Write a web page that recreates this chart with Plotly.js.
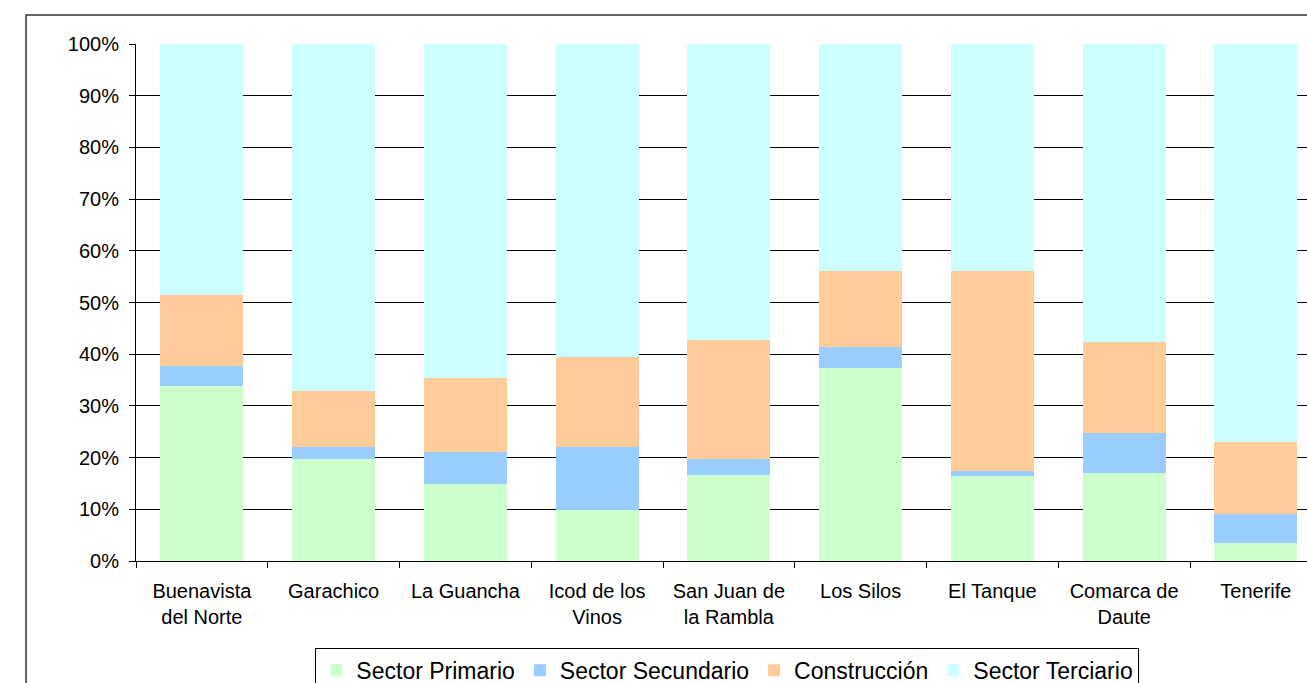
<!DOCTYPE html>
<html>
<head>
<meta charset="utf-8">
<script src="https://cdn.plot.ly/plotly-3.0.1.min.js"></script>
<style>html,body{margin:0;padding:0;background:#fff;}#chart{width:1307px;height:683px;}</style>
</head>
<body>
<div id="chart"></div>
<script>
var categories = ["Buenavista<br>del Norte", "Garachico", "La Guancha", "Icod de los<br>Vinos", "San Juan de<br>la Rambla", "Los Silos", "El Tanque", "Comarca de<br>Daute", "Tenerife"];
var sectorPrimario   = [33.8, 19.7, 14.9,  9.9, 16.6, 37.3, 16.4, 17.0,  3.5];
var sectorSecundario = [ 3.9,  2.35, 6.2, 12.15, 3.1,  4.1,  1.0,  7.75, 5.6];
var construccion     = [13.7, 10.85, 14.35, 17.4, 23.05, 14.7, 38.7, 17.6, 13.9];
var sectorTerciario  = [48.6, 67.1, 64.55, 60.55, 57.25, 43.9, 43.9, 57.65, 77.0];
var seriesNames = ["Sector Primario", "Sector Secundario", "Construcción", "Sector Terciario"];
var yTickVals = [0,10,20,30,40,50,60,70,80,90,100];
var yTickLabels = ["0%","10%","20%","30%","40%","50%","60%","70%","80%","90%","100%"];

var colors = ["#CCFFCC", "#99CCFF", "#FFCC99", "#CCFFFF"];
var allSeries = [sectorPrimario, sectorSecundario, construccion, sectorTerciario];
var data = allSeries.map(function(vals, i){
  return {type:'bar', x:categories, y:vals, name:seriesNames[i],
    marker:{color:colors[i], line:{width:0}}, hoverinfo:'x+y+name'};
});

var font = "Liberation Sans, Arial, sans-serif";
var layout = {
  width:1307, height:683,
  margin:{l:136, r:0, t:44, b:122, pad:0, autoexpand:false},
  barmode:'stack', bargap:0.37,
  paper_bgcolor:'#ffffff', plot_bgcolor:'#ffffff',
  font:{family:font, color:'#000', size:20},
  showlegend:true,
  legend:{orientation:'h', x:0.505, xanchor:'center', y:-0.168, yanchor:'top',
    bordercolor:'#000', borderwidth:1, font:{family:font, size:23, color:'#000'},
    itemwidth:30, tracegroupgap:0, traceorder:'normal'},
  xaxis:{type:'category', range:[-0.5, 8.388], showline:true, linecolor:'#000', linewidth:1,
    ticks:'outside', ticklen:6, tickcolor:'#000', tickson:'boundaries', showgrid:false,
    ticklabelstandoff:12,
    tickfont:{family:font, size:20, color:'#000'}, fixedrange:true, automargin:false},
  yaxis:{range:[0,100], tickvals:yTickVals, ticktext:yTickLabels, showline:true, linecolor:'#000', linewidth:1,
    ticks:'outside', ticklen:6, tickcolor:'#000', showgrid:true, gridcolor:'#000', gridwidth:1,
    ticklabelstandoff:6,
    zeroline:false, tickfont:{family:font, size:20, color:'#000'}, fixedrange:true, automargin:false},
  shapes:[{type:'rect', xref:'paper', yref:'paper', x0:-0.0939, x1:1.05, y0:-0.3, y1:1.0561,
    line:{color:'#333', width:1.5}, fillcolor:'rgba(0,0,0,0)', layer:'above'}]
};
Plotly.newPlot('chart', data, layout, {displayModeBar:false, staticPlot:true});
</script>
</body>
</html>
